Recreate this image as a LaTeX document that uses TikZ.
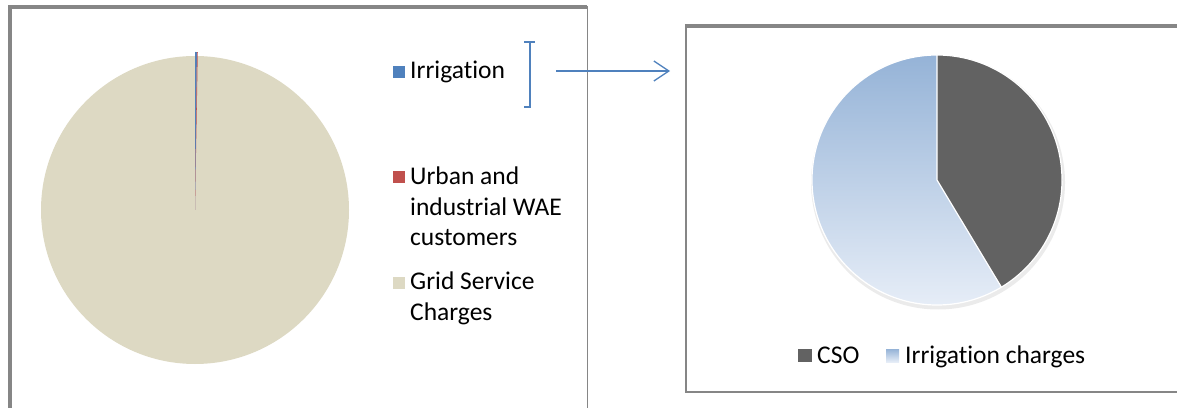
\documentclass[tikz,border=0pt]{standalone}
\usepackage{fontspec}
\setmainfont{Carlito}[Ligatures=NoCommon]
\usetikzlibrary{arrows.meta}
\definecolor{irrblue}{HTML}{4F81BD}
\definecolor{urbred}{HTML}{C0504D}
\definecolor{gridtan}{HTML}{DDD9C3}
\definecolor{framegray}{HTML}{868686}
\definecolor{csogray}{HTML}{626262}
\definecolor{chargetop}{HTML}{95B3D7}
\definecolor{chargebot}{HTML}{E6EDF7}
\tikzset{
  legtext/.style={anchor=base west, inner sep=0pt, font=\fontsize{25.5}{30.5}\selectfont, align=left},
  frameline/.style={draw=framegray}
}
\begin{document}
\begin{tikzpicture}[x=1pt,y=1pt]
\useasboundingbox (0,0) rectangle (1177,407);
% left chart
\draw[frameline, line width=3.5pt] (10,-5) -- (10,400) -- (587,400);
\draw[frameline, line width=1pt] (587,401) -- (587,-5);
\fill[gridtan] (195,197) circle (154);
\fill[irrblue] (195,197) -- ++(90:158) arc[start angle=90, end angle=89.3, radius=158] -- cycle;
\fill[urbred] (195,197) -- ++(89.3:158) arc[start angle=89.3, end angle=89.0, radius=158] -- cycle;
% left legend (base = last line)
\fill[irrblue] (393,329) rectangle (405,341);
\node[legtext] (irrleg) at (410,328) {Irrigation};
\fill[urbred] (393,224) rectangle (405,236);
\node[legtext] (urbleg) at (410,161) {Urban and\\industrial WAE\\customers};
\fill[gridtan] (393,118) rectangle (405,130);
\node[legtext] (gridleg) at (410,87) {Grid Service\\Charges};
% bracket and arrow
\draw[irrblue, line width=1.3pt] (524,365) -- (535,365) (530,365) -- (530,300) -- (524,300);
\coordinate (arrtail) at (556,336);
\coordinate (arrhead) at (670,336);
\draw[irrblue, line width=1.3pt, -{Straight Barb[length=15pt, width=20pt]}] (arrtail) -- (arrhead);
% right chart
\draw[frameline, line width=2.5pt] (1180,15) -- (686,15) -- (686,381);
\draw[frameline, line width=3.5pt] (684.8,381) -- (1180,381);
\fill[black!8] (938,224.5) circle (127);
\fill[csogray] (937,227) -- ++(90:125) arc[start angle=90, end angle=-59, radius=125] -- cycle;
\shade[top color=chargetop, bottom color=chargebot] (937,227) -- ++(90:125) arc[start angle=90, end angle=301, radius=125] -- cycle;
\draw[white, line width=1.2pt] (937,352) -- (937,227) -- ++(-59:125);
\draw[white, line width=1.2pt] (937,227) circle (125);
% right legend
\fill[csogray] (798,45) rectangle (812,58);
\node[legtext] (csoleg) at (817,44) {CSO};
\shade[top color=chargetop, bottom color=chargebot] (886,45) rectangle (899,58);
\node[legtext] (chargeleg) at (905,44) {Irrigation charges};
\end{tikzpicture}
\end{document}
